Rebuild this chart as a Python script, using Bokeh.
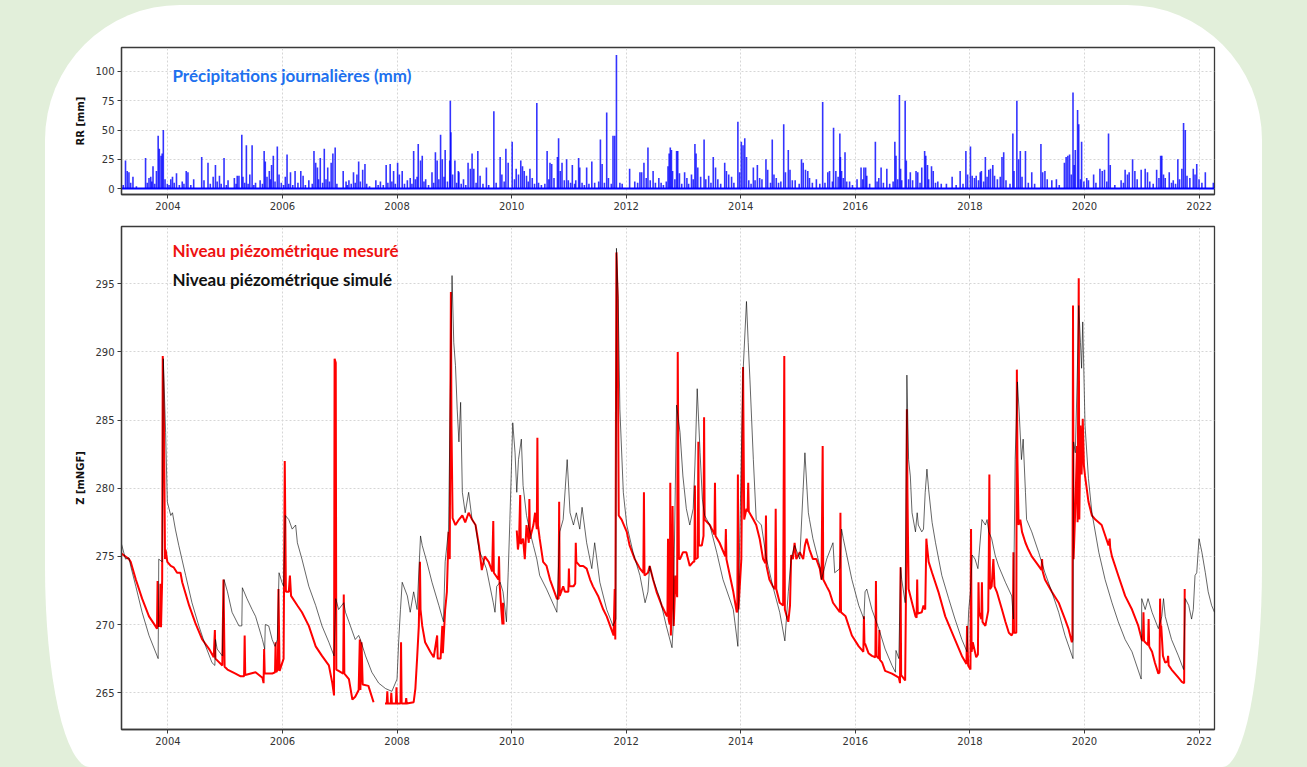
from bokeh.plotting import figure
from bokeh.layouts import column
from bokeh.models import Label, FixedTicker, ColumnDataSource, Range1d
from bokeh.embed import file_html
from bokeh.resources import INLINE

nan = float("nan")

# ---------------- data ----------------
years = [2004, 2006, 2008, 2010, 2012, 2014, 2016, 2018, 2020, 2022]
rr_ticks = [0, 25, 50, 75, 100]
z_ticks = [265, 270, 275, 280, 285, 290, 295]

rain_t = [
    2003.22, 2003.26, 2003.29, 2003.32, 2003.35, 2003.39, 2003.45, 2003.61, 2003.64, 2003.67,
    2003.70, 2003.72, 2003.74, 2003.77, 2003.80, 2003.83, 2003.85, 2003.88, 2003.90, 2003.92,
    2003.95, 2003.99, 2004.02, 2004.05, 2004.08, 2004.11, 2004.15, 2004.20, 2004.25, 2004.28,
    2004.32, 2004.35, 2004.40, 2004.45, 2004.59, 2004.63, 2004.70, 2004.74, 2004.79, 2004.83,
    2004.86, 2004.90, 2004.93, 2004.98, 2005.02, 2005.05, 2005.16, 2005.19, 2005.21, 2005.24,
    2005.29, 2005.31, 2005.34, 2005.37, 2005.40, 2005.43, 2005.47, 2005.50, 2005.53, 2005.61,
    2005.65, 2005.68, 2005.70, 2005.73, 2005.77, 2005.79, 2005.81, 2005.84, 2005.87, 2005.91,
    2005.94, 2005.98, 2006.02, 2006.05, 2006.08, 2006.11, 2006.14, 2006.18, 2006.22, 2006.27,
    2006.32, 2006.36, 2006.40, 2006.46, 2006.52, 2006.55, 2006.58, 2006.61, 2006.63, 2006.66,
    2006.70, 2006.73, 2006.76, 2006.79, 2006.82, 2006.85, 2006.88, 2006.92, 2006.95, 2007.06,
    2007.11, 2007.13, 2007.16, 2007.20, 2007.24, 2007.27, 2007.30, 2007.33, 2007.36, 2007.40,
    2007.44, 2007.47, 2007.52, 2007.63, 2007.67, 2007.71, 2007.76, 2007.81, 2007.84, 2007.88,
    2007.91, 2007.94, 2007.97, 2008.01, 2008.04, 2008.09, 2008.13, 2008.18, 2008.23, 2008.26,
    2008.29, 2008.32, 2008.35, 2008.37, 2008.41, 2008.44, 2008.47, 2008.50, 2008.55, 2008.61,
    2008.64, 2008.67, 2008.70, 2008.73, 2008.76, 2008.79, 2008.82, 2008.84, 2008.88, 2008.92,
    2008.93, 2008.94, 2008.97, 2009.01, 2009.04, 2009.07, 2009.08, 2009.12, 2009.16, 2009.20,
    2009.24, 2009.28, 2009.31, 2009.34, 2009.38, 2009.41, 2009.45, 2009.50, 2009.56, 2009.60,
    2009.69, 2009.73, 2009.80, 2009.83, 2009.87, 2009.90, 2009.94, 2010.01, 2010.05, 2010.08,
    2010.12, 2010.16, 2010.19, 2010.22, 2010.26, 2010.29, 2010.32, 2010.36, 2010.40, 2010.44,
    2010.47, 2010.52, 2010.58, 2010.62, 2010.65, 2010.67, 2010.70, 2010.74, 2010.80, 2010.82,
    2010.85, 2010.88, 2010.92, 2010.96, 2010.99, 2011.03, 2011.06, 2011.10, 2011.12, 2011.17,
    2011.19, 2011.23, 2011.27, 2011.31, 2011.35, 2011.40, 2011.45, 2011.52, 2011.55, 2011.58,
    2011.62, 2011.66, 2011.69, 2011.74, 2011.77, 2011.80, 2011.83, 2011.89, 2011.93, 2012.06,
    2012.15, 2012.20, 2012.24, 2012.27, 2012.31, 2012.35, 2012.38, 2012.42, 2012.47, 2012.51,
    2012.57, 2012.61, 2012.65, 2012.70, 2012.73, 2012.75, 2012.77, 2012.79, 2012.81, 2012.85,
    2012.88, 2012.90, 2012.93, 2012.97, 2013.02, 2013.06, 2013.09, 2013.14, 2013.17, 2013.20,
    2013.22, 2013.25, 2013.30, 2013.36, 2013.39, 2013.44, 2013.48, 2013.52, 2013.56, 2013.60,
    2013.65, 2013.72, 2013.75, 2013.79, 2013.84, 2013.88, 2013.95, 2013.98, 2014.01, 2014.04,
    2014.07, 2014.10, 2014.14, 2014.18, 2014.22, 2014.25, 2014.29, 2014.33, 2014.37, 2014.44,
    2014.47, 2014.52, 2014.55, 2014.58, 2014.62, 2014.66, 2014.70, 2014.75, 2014.78, 2014.83,
    2014.86, 2014.90, 2014.95, 2015.02, 2015.06, 2015.09, 2015.13, 2015.17, 2015.20, 2015.25,
    2015.32, 2015.38, 2015.43, 2015.47, 2015.52, 2015.55, 2015.60, 2015.62, 2015.66, 2015.70,
    2015.73, 2015.74, 2015.76, 2015.79, 2015.82, 2015.85, 2015.90, 2015.95, 2016.03, 2016.10,
    2016.13, 2016.15, 2016.18, 2016.20, 2016.25, 2016.35, 2016.38, 2016.41, 2016.45, 2016.49,
    2016.55, 2016.60, 2016.66, 2016.69, 2016.71, 2016.74, 2016.77, 2016.79, 2016.81, 2016.87,
    2016.89, 2016.93, 2016.96, 2017.00, 2017.06, 2017.09, 2017.13, 2017.16, 2017.21, 2017.23,
    2017.26, 2017.28, 2017.33, 2017.36, 2017.40, 2017.44, 2017.50, 2017.59, 2017.69, 2017.76,
    2017.83, 2017.88, 2017.93, 2017.96, 2018.01, 2018.04, 2018.08, 2018.11, 2018.15, 2018.18,
    2018.20, 2018.24, 2018.27, 2018.30, 2018.33, 2018.36, 2018.40, 2018.43, 2018.48, 2018.53,
    2018.56, 2018.59, 2018.63, 2018.70, 2018.75, 2018.77, 2018.82, 2018.85, 2018.88, 2018.91,
    2018.97, 2019.02, 2019.08, 2019.13, 2019.24, 2019.27, 2019.31, 2019.35, 2019.43, 2019.51,
    2019.56, 2019.65, 2019.68, 2019.71, 2019.74, 2019.77, 2019.80, 2019.82, 2019.84, 2019.88,
    2019.90, 2019.93, 2019.95, 2019.99, 2020.04, 2020.07, 2020.16, 2020.20, 2020.27, 2020.31,
    2020.35, 2020.39, 2020.42, 2020.45, 2020.53, 2020.64, 2020.68, 2020.71, 2020.75, 2020.78,
    2020.84, 2020.88, 2020.92, 2020.99, 2021.06, 2021.10, 2021.14, 2021.20, 2021.26, 2021.30,
    2021.33, 2021.35, 2021.38, 2021.41, 2021.48, 2021.52, 2021.55, 2021.59, 2021.63, 2021.66,
    2021.70, 2021.73, 2021.76, 2021.79, 2021.84, 2021.90, 2021.93, 2021.96, 2022.00, 2022.05,
    2022.11, 2022.25,
]
rain_mm = [
    3, 24, 15, 14, 5, 10, 2, 26, 5, 9,
    10, 6, 19, 4, 15, 45, 34, 28, 30, 50,
    8, 4, 3, 8, 10, 5, 13, 3, 6, 4,
    15, 14, 3, 8, 27, 7, 22, 4, 10, 20,
    6, 11, 4, 26, 3, 7, 9, 4, 11, 11,
    46, 10, 5, 37, 4, 12, 37, 3, 5, 7,
    4, 32, 23, 10, 15, 8, 20, 28, 6, 36,
    12, 5, 3, 10, 29, 4, 14, 3, 15, 5,
    15, 11, 3, 7, 4, 32, 22, 18, 8, 26,
    5, 34, 8, 18, 6, 22, 30, 35, 4, 15,
    6, 3, 7, 4, 14, 5, 12, 23, 6, 16,
    21, 4, 2, 7, 3, 6, 3, 20, 5, 21,
    6, 15, 4, 22, 12, 15, 4, 7, 9, 4,
    32, 8, 10, 38, 24, 28, 6, 8, 3, 14,
    5, 31, 24, 8, 46, 25, 10, 33, 6, 24,
    75, 48, 12, 24, 5, 15, 14, 4, 8, 3,
    22, 17, 30, 17, 5, 32, 11, 4, 18, 3,
    66, 5, 27, 12, 6, 34, 22, 40, 8, 17,
    12, 24, 19, 15, 11, 6, 17, 9, 4, 73,
    5, 3, 4, 32, 8, 22, 21, 9, 27, 43,
    15, 22, 7, 25, 7, 5, 20, 4, 7, 26,
    18, 5, 3, 18, 4, 23, 5, 6, 42, 21,
    5, 65, 9, 4, 45, 45, 114, 5, 4, 17,
    6, 5, 14, 14, 22, 9, 35, 7, 15, 5,
    9, 5, 3, 6, 19, 30, 35, 33, 15, 8,
    32, 32, 13, 4, 14, 9, 4, 12, 8, 38,
    30, 18, 10, 42, 8, 11, 5, 27, 18, 8,
    4, 22, 15, 12, 10, 5, 57, 14, 40, 37,
    43, 27, 7, 4, 18, 7, 20, 9, 8, 25,
    16, 5, 42, 12, 9, 5, 6, 55, 14, 33,
    16, 7, 7, 4, 25, 22, 16, 15, 9, 5,
    8, 4, 74, 5, 14, 15, 6, 52, 15, 10,
    47, 27, 15, 9, 31, 6, 6, 3, 8, 18,
    8, 18, 18, 11, 4, 40, 6, 9, 18, 5,
    17, 4, 6, 40, 28, 8, 80, 17, 7, 75,
    24, 8, 14, 7, 15, 14, 5, 18, 32, 28,
    20, 8, 19, 15, 5, 6, 4, 4, 10, 3,
    15, 4, 32, 12, 36, 11, 9, 11, 7, 14,
    15, 6, 27, 10, 16, 17, 20, 11, 8, 10,
    27, 31, 7, 4, 47, 15, 75, 25, 32, 10,
    32, 5, 14, 4, 38, 14, 15, 8, 7, 8,
    3, 22, 27, 28, 29, 12, 82, 20, 33, 67,
    55, 8, 40, 6, 9, 7, 12, 5, 17, 15,
    16, 6, 47, 20, 3, 7, 5, 16, 12, 14,
    25, 15, 8, 16, 17, 14, 6, 4, 16, 9,
    28, 28, 12, 9, 14, 5, 7, 4, 25, 8,
    17, 56, 50, 11, 9, 17, 12, 21, 8, 5,
    14, 5,
]

# measured piezometric level (mNGF), nan = gap in record
meas_t = [
    2003.19, 2003.32, 2003.35, 2003.44, 2003.55, 2003.67, 2003.78, 2003.81, 2003.82, 2003.83,
    2003.86, 2003.87, 2003.88, 2003.90, 2003.91, 2003.93, 2003.95, 2003.96, 2003.99, 2004.05,
    2004.10, 2004.16, 2004.22, 2004.25, 2004.37, 2004.48, 2004.60, 2004.72, 2004.80, 2004.82,
    2004.83, 2004.95, 2004.97, 2004.99, 2005.04, 2005.18, 2005.27, 2005.33, 2005.34, 2005.35,
    2005.53, 2005.65, 2005.67, 2005.68, 2005.69, 2005.82, 2005.87, 2005.88, 2005.89, 2005.92,
    2005.93, 2005.95, 2006.02, 2006.04, 2006.06, 2006.11, 2006.13, 2006.15, 2006.26, 2006.34,
    2006.46, 2006.58, 2006.69, 2006.81, 2006.87, 2006.90, 2006.91, 2006.93, 2006.94, 2006.98,
    2007.06, 2007.07, 2007.08, 2007.16, 2007.22, 2007.27, 2007.33, 2007.35, 2007.36, 2007.38,
    2007.40, 2007.50, 2007.59, 2007.70, 2007.79, 2007.82, 2007.83, 2007.84, 2007.89, 2007.90,
    2007.91, 2007.98, 2007.99, 2008.00, 2008.06, 2008.07, 2008.08, 2008.15, 2008.16, 2008.17,
    2008.29, 2008.32, 2008.35, 2008.38, 2008.40, 2008.41, 2008.44, 2008.49, 2008.58, 2008.64,
    2008.70, 2008.71, 2008.76, 2008.79, 2008.80, 2008.84, 2008.87, 2008.90, 2008.92, 2008.94,
    2008.95, 2008.97, 2009.02, 2009.08, 2009.14, 2009.19, 2009.25, 2009.31, 2009.37, 2009.43,
    2009.48, 2009.53, 2009.60, 2009.66, 2009.68, 2009.69, 2009.77, 2009.78, 2009.79, 2009.80,
    2009.82, 2009.84, 2009.85, 2009.86, 2009.97, 2010.09, 2010.11, 2010.13, 2010.15, 2010.16,
    2010.20, 2010.23, 2010.26, 2010.30, 2010.31, 2010.32, 2010.38, 2010.41, 2010.44, 2010.45,
    2010.46, 2010.49, 2010.55, 2010.61, 2010.67, 2010.73, 2010.79, 2010.82, 2010.83, 2010.84,
    2010.90, 2010.93, 2010.99, 2011.00, 2011.01, 2011.08, 2011.11, 2011.12, 2011.13, 2011.19,
    2011.25, 2011.31, 2011.37, 2011.42, 2011.51, 2011.60, 2011.66, 2011.72, 2011.78, 2011.80,
    2011.81, 2011.83, 2011.85, 2011.87, 2011.92, 2012.01, 2012.06, 2012.15, 2012.24, 2012.30,
    2012.31, 2012.32, 2012.38, 2012.41, 2012.47, 2012.53, 2012.62, 2012.70, 2012.72, 2012.73,
    2012.74, 2012.76, 2012.77, 2012.78, 2012.80, 2012.81, 2012.83, 2012.86, 2012.89, 2012.90,
    2012.92, 2012.94, 2012.99, 2013.05, 2013.11, 2013.17, 2013.19, 2013.20, 2013.21, 2013.25,
    2013.26, 2013.27, 2013.32, 2013.35, 2013.36, 2013.37, 2013.46, 2013.52, 2013.54, 2013.55,
    2013.56, 2013.63, 2013.73, 2013.74, 2013.75, 2013.81, 2013.87, 2013.93, 2013.94, 2013.95,
    2013.96, 2014.01, 2014.04, 2014.05, 2014.06, 2014.10, 2014.12, 2014.13, 2014.14, 2014.22,
    2014.27, 2014.33, 2014.39, 2014.43, 2014.44, 2014.45, 2014.50, 2014.56, 2014.60, 2014.61,
    2014.62, 2014.68, 2014.74, 2014.76, 2014.77, 2014.83, 2014.86, 2014.88, 2014.91, 2014.94,
    2014.97, 2015.03, 2015.09, 2015.12, 2015.15, 2015.20, 2015.26, 2015.32, 2015.38, 2015.41,
    2015.43, 2015.44, 2015.50, 2015.55, 2015.61, 2015.73, 2015.74, 2015.75, 2015.83, 2015.94,
    2016.06, 2016.12, 2016.14, 2016.15, 2016.16, 2016.17, 2016.23, 2016.29, 2016.35, 2016.36,
    2016.37, 2016.41, 2016.42, 2016.43, 2016.47, 2016.52, 2016.64, 2016.76, 2016.78, 2016.79,
    2016.80, 2016.87, 2016.89, 2016.90, 2016.91, 2016.93, 2016.99, 2017.05, 2017.07, 2017.08,
    2017.09, 2017.16, 2017.19, 2017.22, 2017.24, 2017.25, 2017.28, 2017.34, 2017.45, 2017.57,
    2017.74, 2017.86, 2017.94, 2017.95, 2017.97, 2018.01, 2018.02, 2018.03, 2018.05, 2018.11,
    2018.14, 2018.15, 2018.16, 2018.20, 2018.21, 2018.22, 2018.27, 2018.32, 2018.33, 2018.34,
    2018.35, 2018.38, 2018.41, 2018.43, 2018.47, 2018.56, 2018.62, 2018.68, 2018.73, 2018.75,
    2018.76, 2018.77, 2018.81, 2018.82, 2018.83, 2018.85, 2018.88, 2018.91, 2018.97, 2019.02,
    2019.08, 2019.20, 2019.25, 2019.26, 2019.27, 2019.31, 2019.43, 2019.55, 2019.66, 2019.72,
    2019.78, 2019.79, 2019.80, 2019.81, 2019.84, 2019.87, 2019.88, 2019.90, 2019.91, 2019.93,
    2019.95, 2019.97, 2019.99, 2020.01, 2020.07, 2020.13, 2020.19, 2020.30, 2020.42, 2020.44,
    2020.45, 2020.48, 2020.59, 2020.71, 2020.83, 2020.94, 2021.00, 2021.02, 2021.03, 2021.04,
    2021.06, 2021.11, 2021.12, 2021.13, 2021.18, 2021.23, 2021.29, 2021.31, 2021.32, 2021.33,
    2021.34, 2021.37, 2021.41, 2021.45, 2021.46, 2021.47, 2021.52, 2021.64, 2021.70, 2021.74,
    2021.75,
]
meas_z = [
    275.2, 274.8, 274.6, 273.3, 271.9, 270.6, 269.9, 269.7, 273.2, 269.9,
    269.9, 273.0, 269.8, 273.3, 289.7, 285.6, 274.8, 275.5, 274.6, 274.3,
    274.2, 273.8, 273.8, 273.1, 271.4, 270.1, 268.9, 268.2, 267.6, 269.6,
    267.5, 267.0, 273.3, 266.9, 266.7, 266.4, 266.2, 266.2, 269.2, 266.3,
    266.5, 266.1, 265.7, 268.2, 266.4, 266.4, 266.5, 268.7, 266.5, 266.7,
    272.6, 266.6, 267.5, 282.0, 272.4, 272.4, 273.6, 272.1, 271.4, 270.9,
    269.9, 268.4, 267.7, 267.0, 265.7, 264.8, 289.5, 289.2, 266.7, 266.6,
    266.4, 272.2, 266.4, 266.0, 264.5, 264.7, 265.2, 268.9, 265.2, 268.7,
    265.6, 265.5, 264.3, nan, 264.2, 264.2, 265.1, 264.2, 264.2, 265.0,
    264.2, 264.2, 265.4, 264.2, 264.2, 268.7, 264.2, 264.2, 264.6, 264.2,
    264.3, 265.3, 267.5, 269.9, 274.6, 271.1, 269.9, 268.7, 268.0, 267.6,
    269.2, 267.5, 267.5, 269.9, 267.9, 271.1, 272.4, 276.8, 274.8, 294.4,
    284.6, 277.8, 277.3, 277.7, 278.0, 277.5, 278.2, 277.7, 277.3, 275.8,
    274.0, 275.0, 274.6, 273.9, 277.6, 273.8, 273.3, 275.0, 273.0, 272.4,
    271.1, 270.0, 271.6, 270.0, nan, 276.9, 275.5, 276.2, 279.5, 275.9,
    276.3, 274.8, 277.3, 276.0, 279.2, 276.3, 277.3, 278.2, 277.0, 283.7,
    277.3, 276.3, 274.6, 274.3, 273.3, 272.6, 271.9, 271.9, 279.0, 272.1,
    272.8, 272.4, 272.4, 274.1, 272.8, 272.8, 273.0, 276.0, 274.6, 274.3,
    274.3, 274.1, 273.3, 272.8, 272.1, 271.1, 270.6, 269.9, 269.2, 272.6,
    268.9, 297.3, 294.0, 278.0, 277.7, 276.8, 275.8, 274.8, 274.1, 273.8,
    279.7, 273.6, 273.8, 274.3, 273.3, 272.4, 271.4, 270.7, 270.6, 276.3,
    270.4, 270.0, 280.4, 269.2, 272.4, 278.7, 269.9, 273.6, 272.0, 290.0,
    274.8, 274.8, 275.3, 275.3, 274.3, 274.6, 274.6, 280.2, 274.8, 274.9,
    283.4, 275.8, 275.8, 276.5, 285.2, 277.7, 277.3, 276.8, 276.6, 280.4,
    276.5, 276.0, 275.0, 277.0, 274.8, 273.6, 272.4, 270.9, 271.0, 281.0,
    271.1, 274.8, 288.9, 283.4, 277.7, 278.5, 278.3, 280.4, 278.3, 277.7,
    277.3, 276.3, 274.8, 274.5, 278.0, 274.3, 273.3, 272.8, 272.6, 278.5,
    272.6, 271.6, 271.4, 289.7, 271.1, 270.2, 271.4, 275.1, 274.8, 276.0,
    274.8, 275.3, 274.8, 275.8, 276.3, 275.5, 274.8, 274.8, 274.1, 273.3,
    283.1, 273.3, 272.8, 272.4, 271.6, 270.9, 278.2, 270.9, 270.6, 269.2,
    268.4, 268.1, 268.0, 270.6, 268.5, 268.6, 267.9, 267.7, 267.6, 273.2,
    267.7, 267.5, 269.6, 267.4, 267.2, 266.6, 266.4, 266.1, 265.7, 274.2,
    266.3, 265.9, 274.8, 285.8, 279.7, 272.6, 271.6, 270.6, 270.5, 273.3,
    270.8, 270.9, 271.4, 271.1, 276.3, 275.8, 274.6, 273.8, 272.4, 270.6,
    268.9, 267.7, 267.1, 269.9, 267.0, 266.7, 277.0, 268.0, 268.7, 267.6,
    267.8, 273.1, 270.9, 270.4, 273.1, 270.2, 269.9, 271.0, 274.8, 281.0,
    272.6, 272.8, 274.8, 272.8, 272.4, 271.1, 270.2, 269.4, 269.2, 269.4,
    275.3, 269.4, 269.4, 288.7, 282.1, 277.3, 277.7, 276.8, 276.0, 275.5,
    275.0, 274.3, 274.0, 274.8, 273.9, 273.3, 272.4, 271.6, 270.4, 269.7,
    268.7, 268.9, 293.4, 274.8, 278.5, 283.1, 277.5, 295.4, 277.7, 284.6,
    281.0, 285.1, 281.7, 280.9, 279.0, 278.0, 277.7, 277.3, 275.8, 276.3,
    275.6, 275.0, 273.6, 272.1, 271.1, 269.9, 268.9, 268.8, 270.9, 268.8,
    268.7, 268.5, 270.4, 268.4, 268.0, 267.2, 266.4, 266.5, 271.9, 269.9,
    269.9, 267.7, 267.2, 267.3, 267.7, 267.0, 266.7, 266.1, 265.8, 265.7,
    272.6,
]

# simulated piezometric level (mNGF)
sim_t = [
    2003.19, 2003.26, 2003.32, 2003.35, 2003.44, 2003.55, 2003.67, 2003.83, 2003.84, 2003.90,
    2003.92, 2003.96, 2003.99, 2004.02, 2004.05, 2004.08, 2004.13, 2004.19, 2004.31, 2004.42,
    2004.54, 2004.66, 2004.77, 2004.82, 2004.83, 2004.86, 2004.95, 2004.98, 2005.04, 2005.12,
    2005.24, 2005.29, 2005.30, 2005.38, 2005.47, 2005.53, 2005.65, 2005.69, 2005.70, 2005.76,
    2005.82, 2005.87, 2005.91, 2005.94, 2005.99, 2006.02, 2006.05, 2006.11, 2006.17, 2006.23,
    2006.26, 2006.34, 2006.46, 2006.58, 2006.69, 2006.81, 2006.90, 2006.93, 2006.98, 2007.07,
    2007.10, 2007.16, 2007.27, 2007.33, 2007.36, 2007.45, 2007.56, 2007.68, 2007.80, 2007.91,
    2007.97, 2008.00, 2008.03, 2008.06, 2008.09, 2008.18, 2008.23, 2008.29, 2008.35, 2008.41,
    2008.44, 2008.52, 2008.61, 2008.73, 2008.81, 2008.84, 2008.90, 2008.93, 2008.96, 2008.99,
    2009.02, 2009.05, 2009.08, 2009.11, 2009.14, 2009.19, 2009.25, 2009.31, 2009.37, 2009.43,
    2009.56, 2009.68, 2009.71, 2009.74, 2009.80, 2009.85, 2009.91, 2009.94, 2009.97, 2010.02,
    2010.06, 2010.09, 2010.12, 2010.17, 2010.20, 2010.26, 2010.32, 2010.38, 2010.44, 2010.49,
    2010.61, 2010.79, 2010.84, 2010.90, 2010.97, 2011.02, 2011.08, 2011.13, 2011.19, 2011.23,
    2011.31, 2011.40, 2011.45, 2011.54, 2011.66, 2011.77, 2011.82, 2011.83, 2011.86, 2011.89,
    2011.95, 2012.01, 2012.12, 2012.24, 2012.33, 2012.38, 2012.41, 2012.47, 2012.59, 2012.70,
    2012.80, 2012.82, 2012.88, 2012.94, 2012.99, 2013.05, 2013.11, 2013.17, 2013.20, 2013.24,
    2013.29, 2013.33, 2013.37, 2013.46, 2013.58, 2013.69, 2013.87, 2013.95, 2013.98, 2014.04,
    2014.10, 2014.13, 2014.16, 2014.22, 2014.27, 2014.36, 2014.45, 2014.56, 2014.68, 2014.77,
    2014.83, 2014.88, 2014.94, 2015.03, 2015.12, 2015.18, 2015.20, 2015.26, 2015.38, 2015.41,
    2015.50, 2015.61, 2015.64, 2015.73, 2015.76, 2015.79, 2015.84, 2015.94, 2016.06, 2016.15,
    2016.17, 2016.20, 2016.23, 2016.29, 2016.41, 2016.52, 2016.64, 2016.70, 2016.71, 2016.76,
    2016.79, 2016.81, 2016.87, 2016.90, 2016.93, 2016.96, 2016.99, 2017.05, 2017.08, 2017.10,
    2017.16, 2017.19, 2017.22, 2017.25, 2017.28, 2017.34, 2017.40, 2017.51, 2017.63, 2017.74,
    2017.86, 2017.95, 2017.98, 2018.01, 2018.04, 2018.09, 2018.14, 2018.21, 2018.27, 2018.30,
    2018.33, 2018.38, 2018.44, 2018.50, 2018.62, 2018.73, 2018.76, 2018.79, 2018.83, 2018.86,
    2018.90, 2018.93, 2018.97, 2018.99, 2019.08, 2019.20, 2019.31, 2019.43, 2019.55, 2019.66,
    2019.80, 2019.81, 2019.84, 2019.87, 2019.90, 2019.93, 2019.95, 2019.97, 2020.01, 2020.07,
    2020.13, 2020.25, 2020.36, 2020.48, 2020.59, 2020.71, 2020.83, 2020.99, 2021.00, 2021.06,
    2021.11, 2021.18, 2021.29, 2021.35, 2021.38, 2021.41, 2021.52, 2021.64, 2021.73, 2021.76,
    2021.82, 2021.87, 2021.90, 2021.93, 2021.96, 2022.00, 2022.05, 2022.11, 2022.16, 2022.22,
    2022.27,
]
sim_z = [
    275.9, 274.8, 274.9, 274.3, 272.8, 270.9, 269.2, 267.5, 274.8, 274.6,
    289.5, 284.1, 279.0, 278.5, 278.0, 278.2, 277.0, 275.8, 273.6, 271.6,
    269.9, 268.4, 267.2, 267.0, 268.9, 268.2, 267.7, 273.3, 272.4, 270.9,
    269.9, 269.9, 272.7, 271.9, 271.1, 270.6, 268.9, 268.2, 270.0, 269.9,
    268.9, 268.4, 268.9, 273.8, 273.1, 272.8, 278.0, 277.7, 277.0, 277.3,
    276.0, 274.8, 272.8, 271.4, 269.9, 268.7, 267.7, 271.9, 271.1, 271.6,
    270.9, 270.2, 268.9, 269.2, 268.9, 267.7, 266.5, 265.7, 265.3, 265.1,
    265.7, 266.0, 268.9, 271.1, 273.1, 272.1, 270.9, 272.4, 271.1, 276.5,
    275.8, 274.6, 273.1, 271.4, 270.2, 274.6, 277.0, 287.0, 295.6, 290.7,
    289.0, 285.8, 283.4, 286.3, 279.7, 278.2, 279.7, 277.7, 277.3, 275.5,
    274.1, 271.6, 270.9, 272.8, 273.1, 272.4, 270.2, 273.8, 277.7, 284.8,
    282.6, 279.7, 282.1, 283.6, 280.2, 278.0, 276.8, 275.8, 274.8, 273.6,
    272.6, 270.9, 276.8, 277.7, 282.1, 278.2, 277.3, 278.2, 277.0, 278.6,
    276.0, 274.1, 276.0, 273.1, 271.1, 269.9, 270.4, 297.6, 293.9, 285.8,
    279.7, 277.3, 275.3, 273.6, 271.6, 272.4, 274.3, 273.3, 271.9, 269.9,
    268.3, 269.9, 286.1, 284.1, 280.9, 278.5, 277.3, 278.5, 281.7, 287.3,
    282.6, 279.2, 278.0, 277.3, 275.3, 273.3, 271.1, 268.4, 276.0, 288.5,
    293.7, 290.7, 288.0, 282.1, 277.7, 277.3, 274.8, 272.8, 270.9, 268.8,
    272.4, 274.8, 275.8, 274.8, 282.6, 278.2, 277.7, 276.3, 274.3, 273.3,
    274.8, 276.0, 273.8, 274.1, 277.0, 276.3, 275.3, 273.3, 271.4, 270.4,
    272.4, 272.6, 272.1, 271.1, 269.7, 268.2, 267.0, 266.5, 268.1, 267.5,
    274.2, 273.3, 271.6, 288.3, 282.1, 280.9, 278.2, 276.8, 278.2, 277.3,
    276.8, 277.0, 279.7, 281.4, 279.9, 277.5, 276.0, 273.6, 271.9, 270.4,
    268.9, 268.0, 271.1, 272.4, 275.1, 274.8, 274.1, 277.7, 277.3, 277.7,
    276.8, 276.3, 275.1, 274.3, 273.1, 272.1, 270.4, 282.1, 287.8, 285.6,
    282.1, 283.6, 279.7, 277.7, 276.8, 275.3, 273.8, 272.4, 270.9, 269.2,
    267.5, 283.4, 282.6, 287.5, 293.4, 290.7, 288.8, 292.2, 284.6, 280.7,
    278.2, 275.3, 273.3, 271.6, 270.2, 268.9, 268.0, 266.0, 271.9, 271.1,
    271.9, 270.9, 269.7, 270.6, 271.9, 270.6, 268.9, 267.7, 266.7, 271.9,
    271.4, 270.4, 271.1, 273.6, 273.8, 276.3, 275.3, 273.8, 272.4, 271.4,
    270.9,
]

title_rain = "Précipitations journalières (mm)"
label_meas = "Niveau piézométrique mesuré"
label_sim = "Niveau piézométrique simulé"

# ---------------- styling helpers ----------------
X0, X1 = 2003.19, 2022.27
TICK_FONT = "DejaVu Sans"


def style(p, yticks, ylabel):
    p.background_fill_color = "white"
    p.border_fill_color = None
    p.outline_line_color = "#3a3a3a"
    p.outline_line_width = 1.3
    for ax in (p.xaxis[0], p.yaxis[0]):
        ax.axis_line_color = "#3a3a3a"
        ax.axis_line_width = 1.3
        ax.major_tick_line_color = "#3a3a3a"
        ax.major_tick_out = 4
        ax.major_tick_in = 0
        ax.minor_tick_line_color = None
        ax.major_label_text_font = TICK_FONT
        ax.major_label_text_font_size = "10px"
        ax.major_label_text_color = "#333333"
        ax.major_label_standoff = 3
    p.xaxis.ticker = FixedTicker(ticks=years)
    p.yaxis.ticker = FixedTicker(ticks=yticks)
    p.yaxis.axis_label = ylabel
    p.yaxis.axis_label_text_font = TICK_FONT
    p.yaxis.axis_label_text_font_size = "10px"
    p.yaxis.axis_label_text_font_style = "bold"
    p.yaxis.axis_label_text_color = "#111111"
    p.yaxis.axis_label_standoff = 6
    for g in (p.xgrid[0], p.ygrid[0]):
        g.grid_line_color = "#d6d6d6"
        g.grid_line_dash = "2 2"
        g.grid_line_width = 1
    p.xgrid.ticker = FixedTicker(ticks=years)
    p.ygrid.ticker = FixedTicker(ticks=yticks)


# ---------------- top: rainfall ----------------
p1 = figure(width=1217, height=211, output_backend="svg", toolbar_location=None,
            x_range=Range1d(X0, X1), y_range=Range1d(-5.1, 120.5),
            min_border_left=76, min_border_right=48, min_border_top=42, min_border_bottom=22)
style(p1, rr_ticks, "RR [mm]")
src_rain = ColumnDataSource(dict(t=rain_t, mm=rain_mm, z=[0] * len(rain_t)))
p1.segment(x0="t", y0="z", x1="t", y1="mm", source=src_rain,
           line_color="#0000ff", line_width=1.6, line_alpha=0.8)
p1.line(x=[X0, X1], y=[0, 0], line_color="#0000ff", line_width=2)
p1.add_layout(Label(x=2004.08, y=96.5, text=title_rain, text_font="Lato",
                    text_font_style="bold", text_font_size="17px",
                    text_color="#2070ee", text_baseline="middle"))

# ---------------- bottom: piezometric level ----------------
p2 = figure(width=1217, height=551, output_backend="svg", toolbar_location=None,
            x_range=Range1d(X0, X1), y_range=Range1d(262.3, 299.2),
            min_border_left=76, min_border_right=48, min_border_top=10, min_border_bottom=38)
style(p2, z_ticks, "Z [mNGF]")
p2.line(x=meas_t, y=meas_z, line_color="#ff0000", line_width=2)
p2.line(x=sim_t, y=sim_z, line_color="#000000", line_width=1, line_alpha=0.6)
p2.add_layout(Label(x=2004.08, y=297.45, text=label_meas, text_font="Lato",
                    text_font_style="bold", text_font_size="17px",
                    text_color="#ee1111", text_baseline="middle"))
p2.add_layout(Label(x=2004.08, y=295.3, text=label_sim, text_font="Lato",
                    text_font_style="bold", text_font_size="17px",
                    text_color="#111111", text_baseline="middle"))

panel = column(p1, p2, width=1217, height=762, spacing=0, margin=(0, 0, 0, 37),
               styles={"background-color": "white",
                       "border-radius": "135px 135px 40px 45px / 135px 135px 200px 200px"})

html = file_html(panel, INLINE, title="Piézométrie")
# page background: edit the real <body> tag (the last one; inline JS may contain the string)
i = html.rfind("<body")
j = html.find(">", i)
html = (html[:i]
        + '<body style="background-color:#e2efda;margin:5px 8px 0 8px;overflow:hidden;">'
        + html[j + 1:])
open("out.html", "w").write(html)
